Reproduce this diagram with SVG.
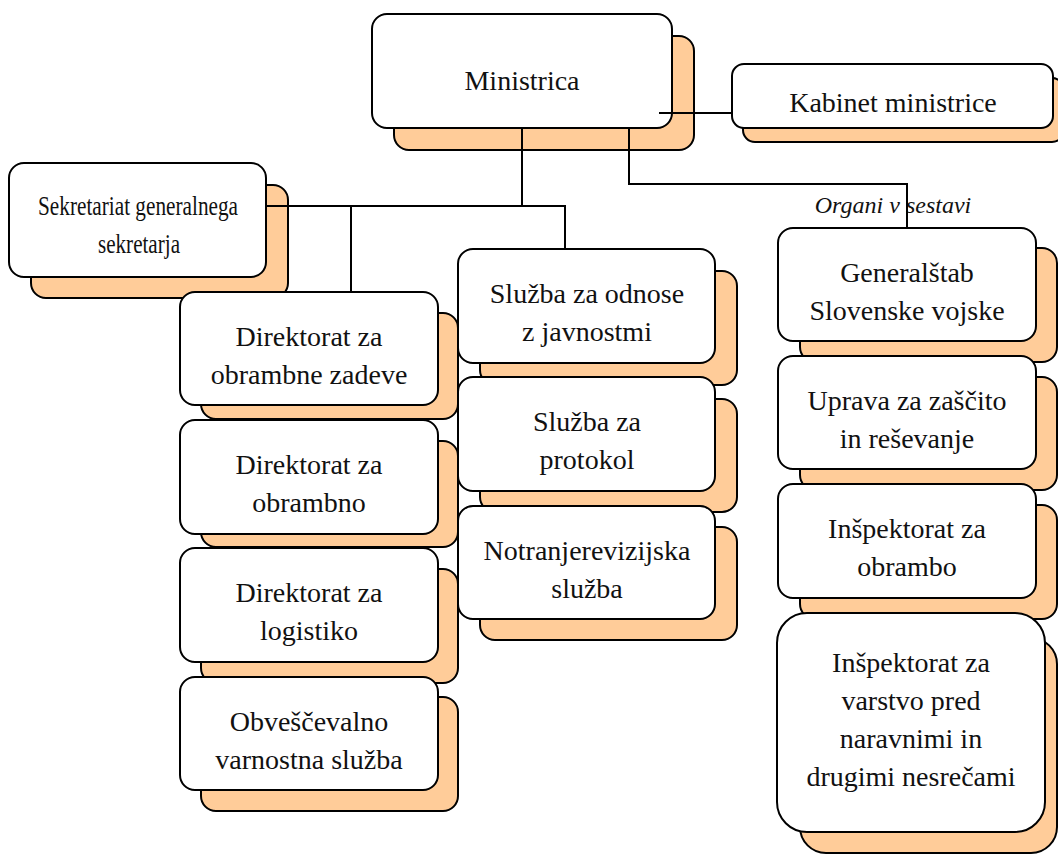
<svg xmlns="http://www.w3.org/2000/svg" width="1058" height="855" viewBox="0 0 1058 855">
<style>
.sh{fill:#FFCC99;stroke:#000;stroke-width:2}
.bx{fill:#fff;stroke:#000;stroke-width:2}
.t{font-family:"Liberation Serif","Times New Roman",serif;font-size:28px;fill:#111;text-anchor:middle}
.it{font-style:italic;font-size:24px}
.c{fill:none;stroke:#000;stroke-width:2}
</style>
<rect width="1058" height="855" fill="#fff"/>
<g id="n-ministrica">
<rect class="sh" x="394" y="36" width="300" height="114" rx="15"/>
<rect class="bx" x="372" y="14" width="300" height="114" rx="15"/>
<text class="t" x="522" y="90">Ministrica</text>
</g>
<g id="n-kabinet">
<rect class="sh" x="743" y="78" width="321" height="64" rx="12"/>
<rect class="bx" x="732" y="64" width="321" height="64" rx="12"/>
<text class="t" x="893" y="112">Kabinet ministrice</text>
</g>
<g id="n-sekretariat">
<rect class="sh" x="31" y="185" width="257" height="113" rx="15"/>
<rect class="bx" x="9" y="163" width="257" height="114" rx="15"/>
<text class="t" x="138" y="215" textLength="200" lengthAdjust="spacingAndGlyphs">Sekretariat generalnega</text>
<text class="t" x="139" y="253" textLength="82" lengthAdjust="spacingAndGlyphs">sekretarja</text>
</g>
<g id="n-dir-zadeve">
<rect class="sh" x="201" y="313" width="257" height="106" rx="15"/>
<rect class="bx" x="180" y="292" width="258" height="113" rx="15"/>
<text class="t" x="309" y="346">Direktorat za</text>
<text class="t" x="309" y="384">obrambne zadeve</text>
</g>
<g id="n-dir-obrambno">
<rect class="sh" x="201" y="441" width="257" height="106" rx="15"/>
<rect class="bx" x="180" y="420" width="258" height="114" rx="15"/>
<text class="t" x="309" y="474">Direktorat za</text>
<text class="t" x="309" y="512">obrambno</text>
</g>
<g id="n-dir-logistiko">
<rect class="sh" x="201" y="569" width="257" height="114" rx="15"/>
<rect class="bx" x="180" y="548" width="258" height="114" rx="15"/>
<text class="t" x="309" y="602">Direktorat za</text>
<text class="t" x="309" y="640">logistiko</text>
</g>
<g id="n-obvescevalno">
<rect class="sh" x="201" y="697" width="257" height="114" rx="15"/>
<rect class="bx" x="180" y="677" width="258" height="113" rx="15"/>
<text class="t" x="309" y="731">Obveščevalno</text>
<text class="t" x="309" y="769">varnostna služba</text>
</g>
<g id="n-odnosi">
<rect class="sh" x="480" y="271" width="257" height="114" rx="15"/>
<rect class="bx" x="458" y="249" width="257" height="114" rx="15"/>
<text class="t" x="587" y="303">Služba za odnose</text>
<text class="t" x="587" y="341">z javnostmi</text>
</g>
<g id="n-protokol">
<rect class="sh" x="480" y="399" width="257" height="113" rx="15"/>
<rect class="bx" x="458" y="377" width="257" height="114" rx="15"/>
<text class="t" x="587" y="431">Služba za</text>
<text class="t" x="587" y="469">protokol</text>
</g>
<g id="n-revizija">
<rect class="sh" x="480" y="527" width="257" height="113" rx="15"/>
<rect class="bx" x="458" y="506" width="257" height="113" rx="15"/>
<text class="t" x="587" y="560">Notranjerevizijska</text>
<text class="t" x="587" y="598">služba</text>
</g>
<text class="t it" x="893" y="213">Organi v sestavi</text>
<g id="n-generalstab">
<rect class="sh" x="800" y="248" width="257" height="114" rx="15"/>
<rect class="bx" x="778" y="228" width="258" height="113" rx="15"/>
<text class="t" x="907" y="282">Generalštab</text>
<text class="t" x="907" y="320">Slovenske vojske</text>
</g>
<g id="n-uprava">
<rect class="sh" x="800" y="377" width="257" height="113" rx="15"/>
<rect class="bx" x="778" y="356" width="258" height="113" rx="15"/>
<text class="t" x="907" y="410">Uprava za zaščito</text>
<text class="t" x="907" y="448">in reševanje</text>
</g>
<g id="n-insp-obrambo">
<rect class="sh" x="800" y="505" width="257" height="114" rx="15"/>
<rect class="bx" x="778" y="484" width="258" height="114" rx="15"/>
<text class="t" x="907" y="538">Inšpektorat za</text>
<text class="t" x="907" y="576">obrambo</text>
</g>
<g id="n-insp-varstvo">
<rect class="sh" x="800" y="638" width="257" height="215" rx="26"/>
<rect class="bx" x="777" y="613" width="268" height="219" rx="30"/>
<text class="t" x="911" y="672">Inšpektorat za</text>
<text class="t" x="911" y="710">varstvo pred</text>
<text class="t" x="911" y="748">naravnimi in</text>
<text class="t" x="911" y="786">drugimi nesrečami</text>
</g>
<g id="connectors">
<path class="c" d="M659 113H732"/>
<path class="c" d="M522 128V206"/>
<path class="c" d="M266 206H565V249"/>
<path class="c" d="M351 206V292"/>
<path class="c" d="M629 128V184H907V228"/>
</g>
</svg>
